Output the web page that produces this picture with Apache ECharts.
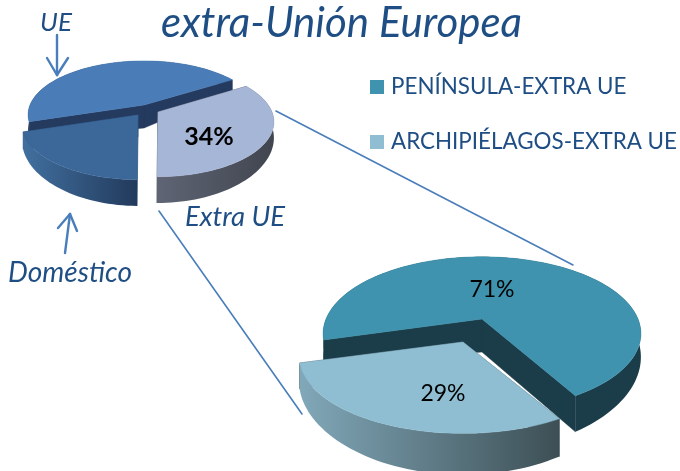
<!DOCTYPE html>
<html><head><meta charset="utf-8">
<style>html,body{margin:0;padding:0;background:#fff}#c{width:680px;height:471px}</style>
<script src="https://cdn.jsdelivr.net/npm/echarts@6/dist/echarts.min.js"></script>
</head><body><div id="c"></div>
<script>
// ---- data ----
const mainCategories = ['UE', 'Doméstico', 'Extra UE'];
const mainValues = [46, 20, 34];
const detailCategories = ['PENÍNSULA-EXTRA UE', 'ARCHIPIÉLAGOS-EXTRA UE'];
const detailValues = [71, 29];
const titleText = 'extra-Unión Europea';

// ---- layout / style ----
const FONT = 'Lato';
const INK = '#1f4e84';
const mainPie = {start: 32, k: .18, a: 114, b: 53, depth: 14.5, power: 3,
  slices: [
    {cx: 144, cy: 105, a: 114, b: 52, apexDepth: 23, top: '#4a7db8', wall: '#243a5e', rim: ['#243a5e', '#243a5e']},
    {cx: 138, cy: 115, apexDepth: 22, top: '#3b6799', wall: '#2a4a73', rim: ['#41709f', '#223a5c']},
    {cx: 158, cy: 112, apexDepth: 22, top: '#a6b6d7', wall: '#41454f', rim: ['#5f6575', '#41454f'], label: true, bold: true, lx: 51, ly: 25, fs: 25}
  ]};
const detailPie = {start: -60, k: .19, a: 156, b: 74, depth: 21, power: 3,
  slices: [
    {cx: 482, cy: 319, apexDepth: 33, top: '#3f93ae', wall: '#1b3c49', rim: ['#1b3c49', '#1b3c49'], label: true, lx: 10, ly: -29, fs: 23},
    {cx: 463, cy: 342, a: 161, apexDepth: 22, depth: 22, top: '#8fbed2', wall: '#44555c', rim: ['#81a8b9', '#3d4f55'], label: true, lx: -20, ly: 52, fs: 23}
  ]};

function sliceGroup(pie, s, from, to, value) {
  const A = s.a || pie.a, B = s.b || pie.b, D = s.depth || pie.depth;
  const proj = (deg) => {
    const t = deg * Math.PI / 180, u = Math.cos(t), v = -Math.sin(t), w = 1 - pie.k * v;
    return {x: s.cx + A * u / w, y: s.cy + B * v / w, d: D / Math.pow(w, pie.power)};
  };
  const arc = [];
  for (let d = from; d < to; d += 2) arc.push(proj(d));
  arc.push(proj(to));
  const top = arc.map(p => [p.x, p.y]);
  const low = arc.map(p => [p.x, p.y + p.d]);
  const apexT = [s.cx, s.cy], apexB = [s.cx, s.cy + s.apexDepth];
  const children = [];
  const poly = (pts, fill) => children.push({type: 'polygon', shape: {points: pts},
    style: {fill: fill, stroke: typeof fill === 'string' ? fill : null, lineWidth: typeof fill === 'string' ? .5 : 0}});
  poly([apexT, top[0], low[0], apexB], s.wall);
  poly([apexT, top[top.length - 1], low[low.length - 1], apexB], s.wall);
  poly(top.concat(low.slice().reverse()), {type: 'linear', x: 0, y: 0, x2: 1, y2: 0,
    colorStops: [{offset: 0, color: s.rim[0]}, {offset: 1, color: s.rim[1]}]});
  poly([apexT].concat(top), s.top);
  if (s.label) children.push({type: 'text', style: {text: value + '%', x: s.cx + s.lx, y: s.cy + s.ly,
    fill: '#000', font: (s.bold ? 'bold ' : '') + s.fs + 'px ' + FONT, align: 'center', verticalAlign: 'middle'}});
  return {type: 'group', children};
}

function pieSeries(pie, names, values) {
  const total = values.reduce((a, b) => a + b, 0);
  let acc = pie.start;
  return names.map((name, i) => {
    const from = acc, to = acc + values[i] / total * 360;
    acc = to;
    const s = pie.slices[i];
    return {type: 'custom', name, coordinateSystem: 'none', silent: true, animation: false,
      itemStyle: {color: s.top}, data: [[values[i]]],
      renderItem: (p, api) => sliceGroup(pie, s, from, to, api.value(0))};
  });
}

const line = (x1, y1, x2, y2, w) => ({type: 'line', shape: {x1, y1, x2, y2}, style: {stroke: '#4a7ebb', lineWidth: w || 1.6, lineCap: 'round'}});
const note = (text, x, y, size) => ({type: 'text', x, y, style: {text, fill: INK, font: 'italic ' + size + 'px ' + FONT, align: 'center', verticalAlign: 'middle'}});

const chart = echarts.init(document.getElementById('c'), null, {renderer: 'canvas'});
chart.setOption({
  animation: false,
  backgroundColor: '#fff',
  title: {text: titleText, left: 161, top: 2, padding: 0,
    textStyle: {fontFamily: FONT, fontStyle: 'italic', fontWeight: 'normal', fontSize: 42, color: INK}},
  legend: {data: detailCategories, orient: 'vertical', left: 370, top: 76, itemWidth: 14, itemHeight: 14, itemGap: 33,
    icon: 'rect', padding: 0, textStyle: {fontFamily: FONT, fontSize: 22.4, color: INK, padding: [0, 0, 0, 2]}},
  series: pieSeries(mainPie, mainCategories, mainValues).concat(pieSeries(detailPie, detailCategories, detailValues)),
  graphic: [
    line(276, 111, 573, 265), line(159, 211, 302, 414),
    line(57, 35, 57, 75, 2.4), line(47, 58, 57, 75, 2.4), line(68, 58, 57, 75, 2.4),
    line(65, 253, 70, 214, 2.4), line(58, 228, 70, 214, 2.4), line(77, 231, 70, 214, 2.4),
    note('UE', 56, 23, 26), note('Extra UE', 235, 217, 27.5), note('Doméstico', 70, 273, 28)
  ]
});
</script></body></html>
